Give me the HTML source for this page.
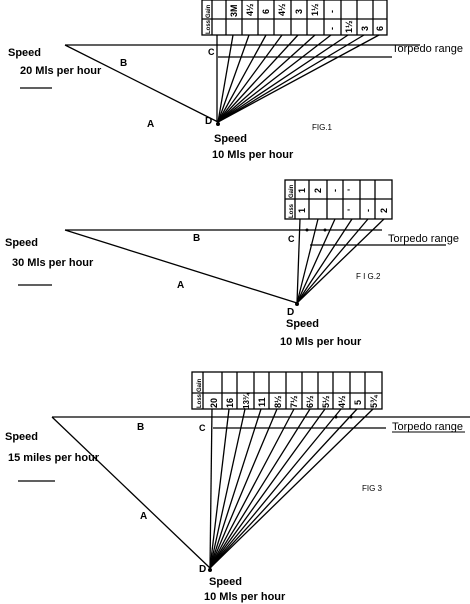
<!DOCTYPE html>
<html><head><meta charset="utf-8"><style>
html,body{margin:0;padding:0;background:#fff;}
svg{display:block;font-family:"Liberation Sans",sans-serif;font-weight:bold;}
text{fill:#000;}
</style></head><body>
<svg width="470" height="604" viewBox="0 0 470 604" xmlns="http://www.w3.org/2000/svg">
<g stroke="#000" stroke-width="1.3" fill="none">
<!-- FIG 1 -->
<rect x="202" y="0" width="185" height="35"/>
<line x1="202" y1="19" x2="387" y2="19"/>
<line x1="212" y1="0" x2="212" y2="35"/><line x1="226" y1="0" x2="226" y2="35"/><line x1="242" y1="0" x2="242" y2="35"/><line x1="258" y1="0" x2="258" y2="35"/><line x1="274" y1="0" x2="274" y2="35"/><line x1="291" y1="0" x2="291" y2="35"/><line x1="307" y1="0" x2="307" y2="35"/><line x1="324" y1="0" x2="324" y2="35"/><line x1="341" y1="0" x2="341" y2="35"/><line x1="357" y1="0" x2="357" y2="35"/><line x1="373" y1="0" x2="373" y2="35"/>
<line x1="65" y1="45" x2="420" y2="45"/>
<line x1="218" y1="57" x2="392" y2="57"/>
<line x1="65" y1="45" x2="218" y2="122"/>
<line x1="217" y1="35" x2="217" y2="122"/>
<line x1="233" y1="35" x2="218" y2="122"/><line x1="249" y1="35" x2="218" y2="122"/><line x1="266" y1="35" x2="218" y2="122"/><line x1="282" y1="35" x2="218" y2="122"/><line x1="298" y1="35" x2="218" y2="122"/><line x1="315" y1="35" x2="218" y2="122"/><line x1="331" y1="35" x2="218" y2="122"/><line x1="348" y1="35" x2="218" y2="122"/><line x1="364" y1="35" x2="218" y2="122"/><line x1="379" y1="35" x2="218" y2="122"/>
<line x1="20" y1="88" x2="52" y2="88"/>
<!-- FIG 2 -->
<rect x="285" y="180" width="107" height="39"/>
<line x1="285" y1="199" x2="392" y2="199"/>
<line x1="295" y1="180" x2="295" y2="219"/><line x1="309" y1="180" x2="309" y2="219"/><line x1="327" y1="180" x2="327" y2="219"/><line x1="343" y1="180" x2="343" y2="219"/><line x1="360" y1="180" x2="360" y2="219"/><line x1="375" y1="180" x2="375" y2="219"/>
<line x1="65" y1="230" x2="382" y2="230"/>
<line x1="310" y1="245" x2="446" y2="245"/>
<line x1="65" y1="230" x2="297" y2="303"/>
<line x1="300" y1="219" x2="297" y2="303"/>
<line x1="318" y1="219" x2="297" y2="303"/><line x1="335" y1="219" x2="297" y2="303"/><line x1="352" y1="219" x2="297" y2="303"/><line x1="368" y1="219" x2="297" y2="303"/><line x1="384" y1="219" x2="297" y2="303"/>
<line x1="18" y1="285" x2="52" y2="285"/>
<!-- FIG 3 -->
<rect x="192" y="372" width="190" height="37"/>
<line x1="192" y1="393" x2="382" y2="393"/>
<line x1="203" y1="372" x2="203" y2="409"/><line x1="222" y1="372" x2="222" y2="409"/><line x1="237" y1="372" x2="237" y2="409"/><line x1="254" y1="372" x2="254" y2="409"/><line x1="269" y1="372" x2="269" y2="409"/><line x1="286" y1="372" x2="286" y2="409"/><line x1="302" y1="372" x2="302" y2="409"/><line x1="318" y1="372" x2="318" y2="409"/><line x1="333" y1="372" x2="333" y2="409"/><line x1="350" y1="372" x2="350" y2="409"/><line x1="365" y1="372" x2="365" y2="409"/>
<line x1="52" y1="417" x2="470" y2="417"/>
<line x1="213" y1="428" x2="386" y2="428"/>
<line x1="52" y1="417" x2="210" y2="568"/>
<line x1="212" y1="409" x2="210" y2="568"/>
<line x1="229" y1="409" x2="210" y2="568"/><line x1="245" y1="409" x2="210" y2="568"/><line x1="261" y1="409" x2="210" y2="568"/><line x1="277" y1="409" x2="210" y2="568"/><line x1="294" y1="409" x2="210" y2="568"/><line x1="310" y1="409" x2="210" y2="568"/><line x1="325" y1="409" x2="210" y2="568"/><line x1="341" y1="409" x2="210" y2="568"/><line x1="357" y1="409" x2="210" y2="568"/><line x1="373" y1="409" x2="210" y2="568"/>
<line x1="18" y1="481" x2="55" y2="481"/>
<line x1="392" y1="432" x2="465" y2="432" stroke-width="1"/>
</g>
<g fill="#000">
<circle cx="307" cy="230" r="1.5"/><circle cx="325" cy="230" r="1.5"/>
<circle cx="336" cy="417" r="1.5"/><circle cx="351" cy="417" r="1.5"/>
<circle cx="218" cy="124" r="2"/><circle cx="297" cy="304" r="2"/><circle cx="210" cy="570" r="2"/>
</g>
<!-- FIG1 texts -->
<g font-size="9">
<text transform="translate(210,18) rotate(-90)" font-size="6">Gain</text>
<text transform="translate(210,34) rotate(-90)" font-size="6">Loss</text>
<text transform="translate(237,17) rotate(-90)">3M</text>
<text transform="translate(253,16) rotate(-90)">4½</text>
<text transform="translate(269,14) rotate(-90)">6</text>
<text transform="translate(285,16) rotate(-90)">4½</text>
<text transform="translate(302,14) rotate(-90)">3</text>
<text transform="translate(318,16) rotate(-90)">1½</text>
<text transform="translate(335,13) rotate(-90)">-</text>
<text transform="translate(335,30) rotate(-90)">-</text>
<text transform="translate(352,33) rotate(-90)">1½</text>
<text transform="translate(368,31) rotate(-90)">3</text>
<text transform="translate(383,31) rotate(-90)">6</text>
</g>
<text x="8" y="56" font-size="11">Speed</text>
<text x="20" y="74" font-size="11">20 Mls per hour</text>
<text x="120" y="66" font-size="10">B</text>
<text x="147" y="127" font-size="10">A</text>
<text x="208" y="55" font-size="9">C</text>
<text x="205" y="124" font-size="10">D</text>
<text x="392" y="52" font-size="11" font-weight="normal">Torpedo range</text>
<text x="312" y="130" font-size="8" font-weight="normal">FIG.1</text>
<text x="214" y="142" font-size="11">Speed</text>
<text x="212" y="158" font-size="11">10 Mls per hour</text>
<!-- FIG2 texts -->
<g font-size="9">
<text transform="translate(293,198) rotate(-90)" font-size="6">Gain</text>
<text transform="translate(293,218) rotate(-90)" font-size="6">Loss</text>
<text transform="translate(305,193) rotate(-90)">1</text>
<text transform="translate(305,213) rotate(-90)">1</text>
<text transform="translate(321,193) rotate(-90)">2</text>
<text transform="translate(338,192) rotate(-90)">-</text>
<text transform="translate(354,191) rotate(-90)">'</text>
<text transform="translate(354,211) rotate(-90)">'</text>
<text transform="translate(371,212) rotate(-90)">-</text>
<text transform="translate(387,213) rotate(-90)">2</text>
</g>
<text x="5" y="246" font-size="11">Speed</text>
<text x="12" y="266" font-size="11">30 Mls per hour</text>
<text x="193" y="241" font-size="10">B</text>
<text x="177" y="288" font-size="10">A</text>
<text x="288" y="242" font-size="9">C</text>
<text x="287" y="315" font-size="10">D</text>
<text x="388" y="242" font-size="11" font-weight="normal">Torpedo range</text>
<text x="356" y="279" font-size="8" font-weight="normal">F I G.2</text>
<text x="286" y="327" font-size="11">Speed</text>
<text x="280" y="345" font-size="11">10 Mls per hour</text>
<!-- FIG3 texts -->
<g font-size="9">
<text transform="translate(201,392) rotate(-90)" font-size="6">Gain</text>
<text transform="translate(201,408) rotate(-90)" font-size="6">Loss</text>
<text transform="translate(217,408) rotate(-90)">20</text>
<text transform="translate(233,408) rotate(-90)">16</text>
<text transform="translate(249,409) rotate(-90)" font-size="8">13¾</text>
<text transform="translate(265,407) rotate(-90)">11</text>
<text transform="translate(281,408) rotate(-90)">8½</text>
<text transform="translate(297,408) rotate(-90)">7½</text>
<text transform="translate(313,408) rotate(-90)">6½</text>
<text transform="translate(329,408) rotate(-90)">5½</text>
<text transform="translate(345,408) rotate(-90)">4½</text>
<text transform="translate(361,405) rotate(-90)">5</text>
<text transform="translate(377,408) rotate(-90)">5¾</text>
</g>
<text x="5" y="440" font-size="11">Speed</text>
<text x="8" y="461" font-size="11">15 miles per hour</text>
<text x="137" y="430" font-size="10">B</text>
<text x="140" y="519" font-size="10">A</text>
<text x="199" y="431" font-size="9">C</text>
<text x="199" y="572" font-size="10">D</text>
<text x="392" y="430" font-size="11" font-weight="normal">Torpedo range</text>
<text x="362" y="491" font-size="8" font-weight="normal">FIG 3</text>
<text x="209" y="585" font-size="11">Speed</text>
<text x="204" y="600" font-size="11">10 Mls per hour</text>
</svg>
</body></html>
